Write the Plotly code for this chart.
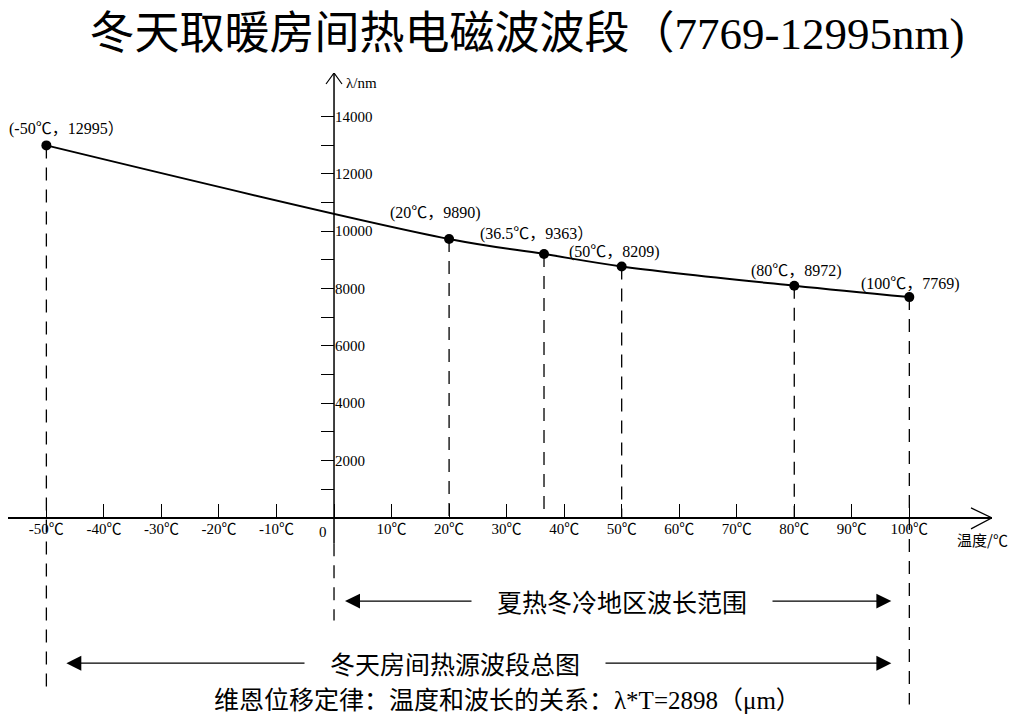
import plotly.graph_objects as go

# values: temperature (℃) -> wavelength (nm)
temps = [-50, 20, 36.5, 50, 80, 100]
waves = [12990, 9727, 9203, 8769, 8094, 7699]
point_labels = ["(-50℃，12995）", "(20℃，9890)", "(36.5℃，9363）",
                "(50℃，8209)", "(80℃，8972)", "(100℃，7769)"]

x_ticks = [-50, -40, -30, -20, -10, 0, 10, 20, 30, 40, 50, 60, 70, 80, 90, 100]
x_tick_text = ["-50℃", "-40℃", "-30℃", "-20℃", "-10℃", "", "10℃", "20℃",
               "30℃", "40℃", "50℃", "60℃", "70℃", "80℃", "90℃", "100℃"]
y_ticks = [1000, 2000, 3000, 4000, 5000, 6000, 7000, 8000, 9000, 10000,
           11000, 12000, 13000, 14000]
y_tick_text = ["", "2000", "", "4000", "", "6000", "", "8000", "", "10000",
               "", "12000", "", "14000"]

title = "冬天取暖房间热电磁波波段（7769-12995nm)"
band_summer = "夏热冬冷地区波长范围"
band_total = "冬天房间热源波段总图"
footnote = "维恩位移定律：温度和波长的关系：λ*T=2898（μm）"

# layout geometry (page body adds an 8px offset, compensated here)
X_RANGE = [-56.67, 114.37]
Y_RANGE = [-7504, 15515]
x_pos = (0 - Y_RANGE[0]) / (Y_RANGE[1] - Y_RANGE[0])
y_pos = (0 - X_RANGE[0]) / (X_RANGE[1] - X_RANGE[0])
LANE_1, LANE_2 = -2904, -5068
YAXIS_SOLID_END, YAXIS_DASH_END = -890, -3578
drop_end = {-50: -5951, 100: -6510}
label_shift = [(20, 16), (-14, 26), (-8, 20), (-7, 14), (2, 15), (1, 13)]

FONT = "Liberation Serif, Noto Sans CJK SC"
CJK = "Noto Sans CJK SC"

fig = go.Figure()
fig.add_trace(go.Scatter(
    x=temps, y=waves, mode="lines+markers",
    line=dict(color="black", width=2, shape="spline", smoothing=1.0),
    marker=dict(color="black", size=10),
    hoverinfo="skip", showlegend=False,
))

shapes = []
# dashed drop lines from each point
for t, w in zip(temps, waves):
    shapes.append(dict(type="line", xref="x", yref="y", x0=t, x1=t,
                       y0=w, y1=drop_end.get(t, 0),
                       line=dict(color="black", width=1.3, dash="13px,9px")))
# y axis line (solid above, dashed below the x axis)
shapes.append(dict(type="line", xref="x", yref="y", x0=0, x1=0,
                   y0=YAXIS_SOLID_END, y1=Y_RANGE[1],
                   line=dict(color="black", width=1.5)))
shapes.append(dict(type="line", xref="x", yref="y", x0=0, x1=0,
                   y0=YAXIS_SOLID_END, y1=YAXIS_DASH_END,
                   line=dict(color="black", width=1.3, dash="13px,9px")))
# open arrow heads on the axes
shapes.append(dict(type="path", xref="x", yref="y",
                   xsizemode="pixel", ysizemode="pixel",
                   xanchor=X_RANGE[1], yanchor=0,
                   path="M-21,10 L0,0 L-21,-11",
                   line=dict(color="black", width=1.2)))
shapes.append(dict(type="path", xref="x", yref="y",
                   xsizemode="pixel", ysizemode="pixel",
                   xanchor=0, yanchor=Y_RANGE[1],
                   path="M-8,-11 L0,0 L8,-11",
                   line=dict(color="black", width=1.2)))

annotations = []
for t, w, txt, (dx, dy) in zip(temps, waves, point_labels, label_shift):
    annotations.append(dict(x=t, y=w, text=txt, showarrow=False,
                            xshift=dx, yshift=dy,
                            font=dict(family=FONT, size=16, color="black")))

# double-headed range arrows
def range_arrows(x_left, x_right, y, mid, text, text_x, so_left, so_right):
    out = []
    for head, so in ((x_left, so_left), (x_right, so_right)):
        out.append(dict(x=head, y=y, ax=mid, ay=y, xref="x", yref="y",
                        axref="x", ayref="y", text="", showarrow=True,
                        arrowhead=2, arrowsize=2.3, arrowwidth=1.3,
                        arrowcolor="black", standoff=so))
    out.append(dict(x=text_x, y=y, xref="x", yref="y", showarrow=False,
                    text="\u2003" + text + "\u2003", bgcolor="white",
                    borderpad=0,
                    font=dict(family=CJK, size=25, color="black")))
    return out

annotations += range_arrows(0, 100, LANE_1, 50, band_summer, 50, 11, 18)
annotations += range_arrows(-50, 100, LANE_2, 25, band_total, 21, 20, 18)

annotations.append(dict(x=0, y=0, xref="x", yref="y", text="0",
                        showarrow=False, xanchor="right", xshift=-5,
                        yshift=-14, font=dict(family=FONT, size=15)))
annotations.append(dict(x=0, y=Y_RANGE[1], xref="x", yref="y",
                        text="λ/nm", showarrow=False, xanchor="left",
                        yanchor="top", xshift=10,
                        font=dict(family=FONT, size=15)))
annotations.append(dict(x=X_RANGE[1], y=0, xref="x", yref="y",
                        text="温度/℃", showarrow=False, xshift=-10,
                        yshift=-22, font=dict(family=CJK, size=15)))
annotations.append(dict(x=0.508, y=0.05, xref="paper", yref="paper",
                        xanchor="center", yanchor="middle",
                        text=footnote, showarrow=False,
                        font=dict(family=FONT, size=25, color="black")))

fig.update_layout(
    width=1018, height=725,
    margin=dict(l=0, r=34, t=65, b=0),
    paper_bgcolor="white", plot_bgcolor="white",
    title=dict(text=title, x=0.5098, y=1 - 25 / 725, xanchor="center",
               yanchor="middle", font=dict(family=FONT, size=45, color="black")),
    font=dict(family=FONT, color="black"),
    xaxis=dict(range=X_RANGE, anchor="free", position=x_pos,
               showgrid=False, zeroline=False, showline=False,
               ticks="inside", ticklen=14, tickwidth=1.2, tickcolor="black",
               tickmode="array", tickvals=x_ticks, ticktext=x_tick_text,
               tickfont=dict(family=FONT, size=15, color="black"),
               fixedrange=True),
    yaxis=dict(range=Y_RANGE, anchor="free", position=y_pos, side="right",
               showgrid=False, zeroline=True, zerolinecolor="black",
               zerolinewidth=1.5, showline=False,
               ticks="inside", ticklen=13, tickwidth=1.2, tickcolor="black",
               tickmode="array", tickvals=y_ticks, ticktext=y_tick_text,
               tickfont=dict(family=FONT, size=15, color="black"),
               fixedrange=True),
    shapes=shapes,
    annotations=annotations,
)

fig.write_html("out.html")
